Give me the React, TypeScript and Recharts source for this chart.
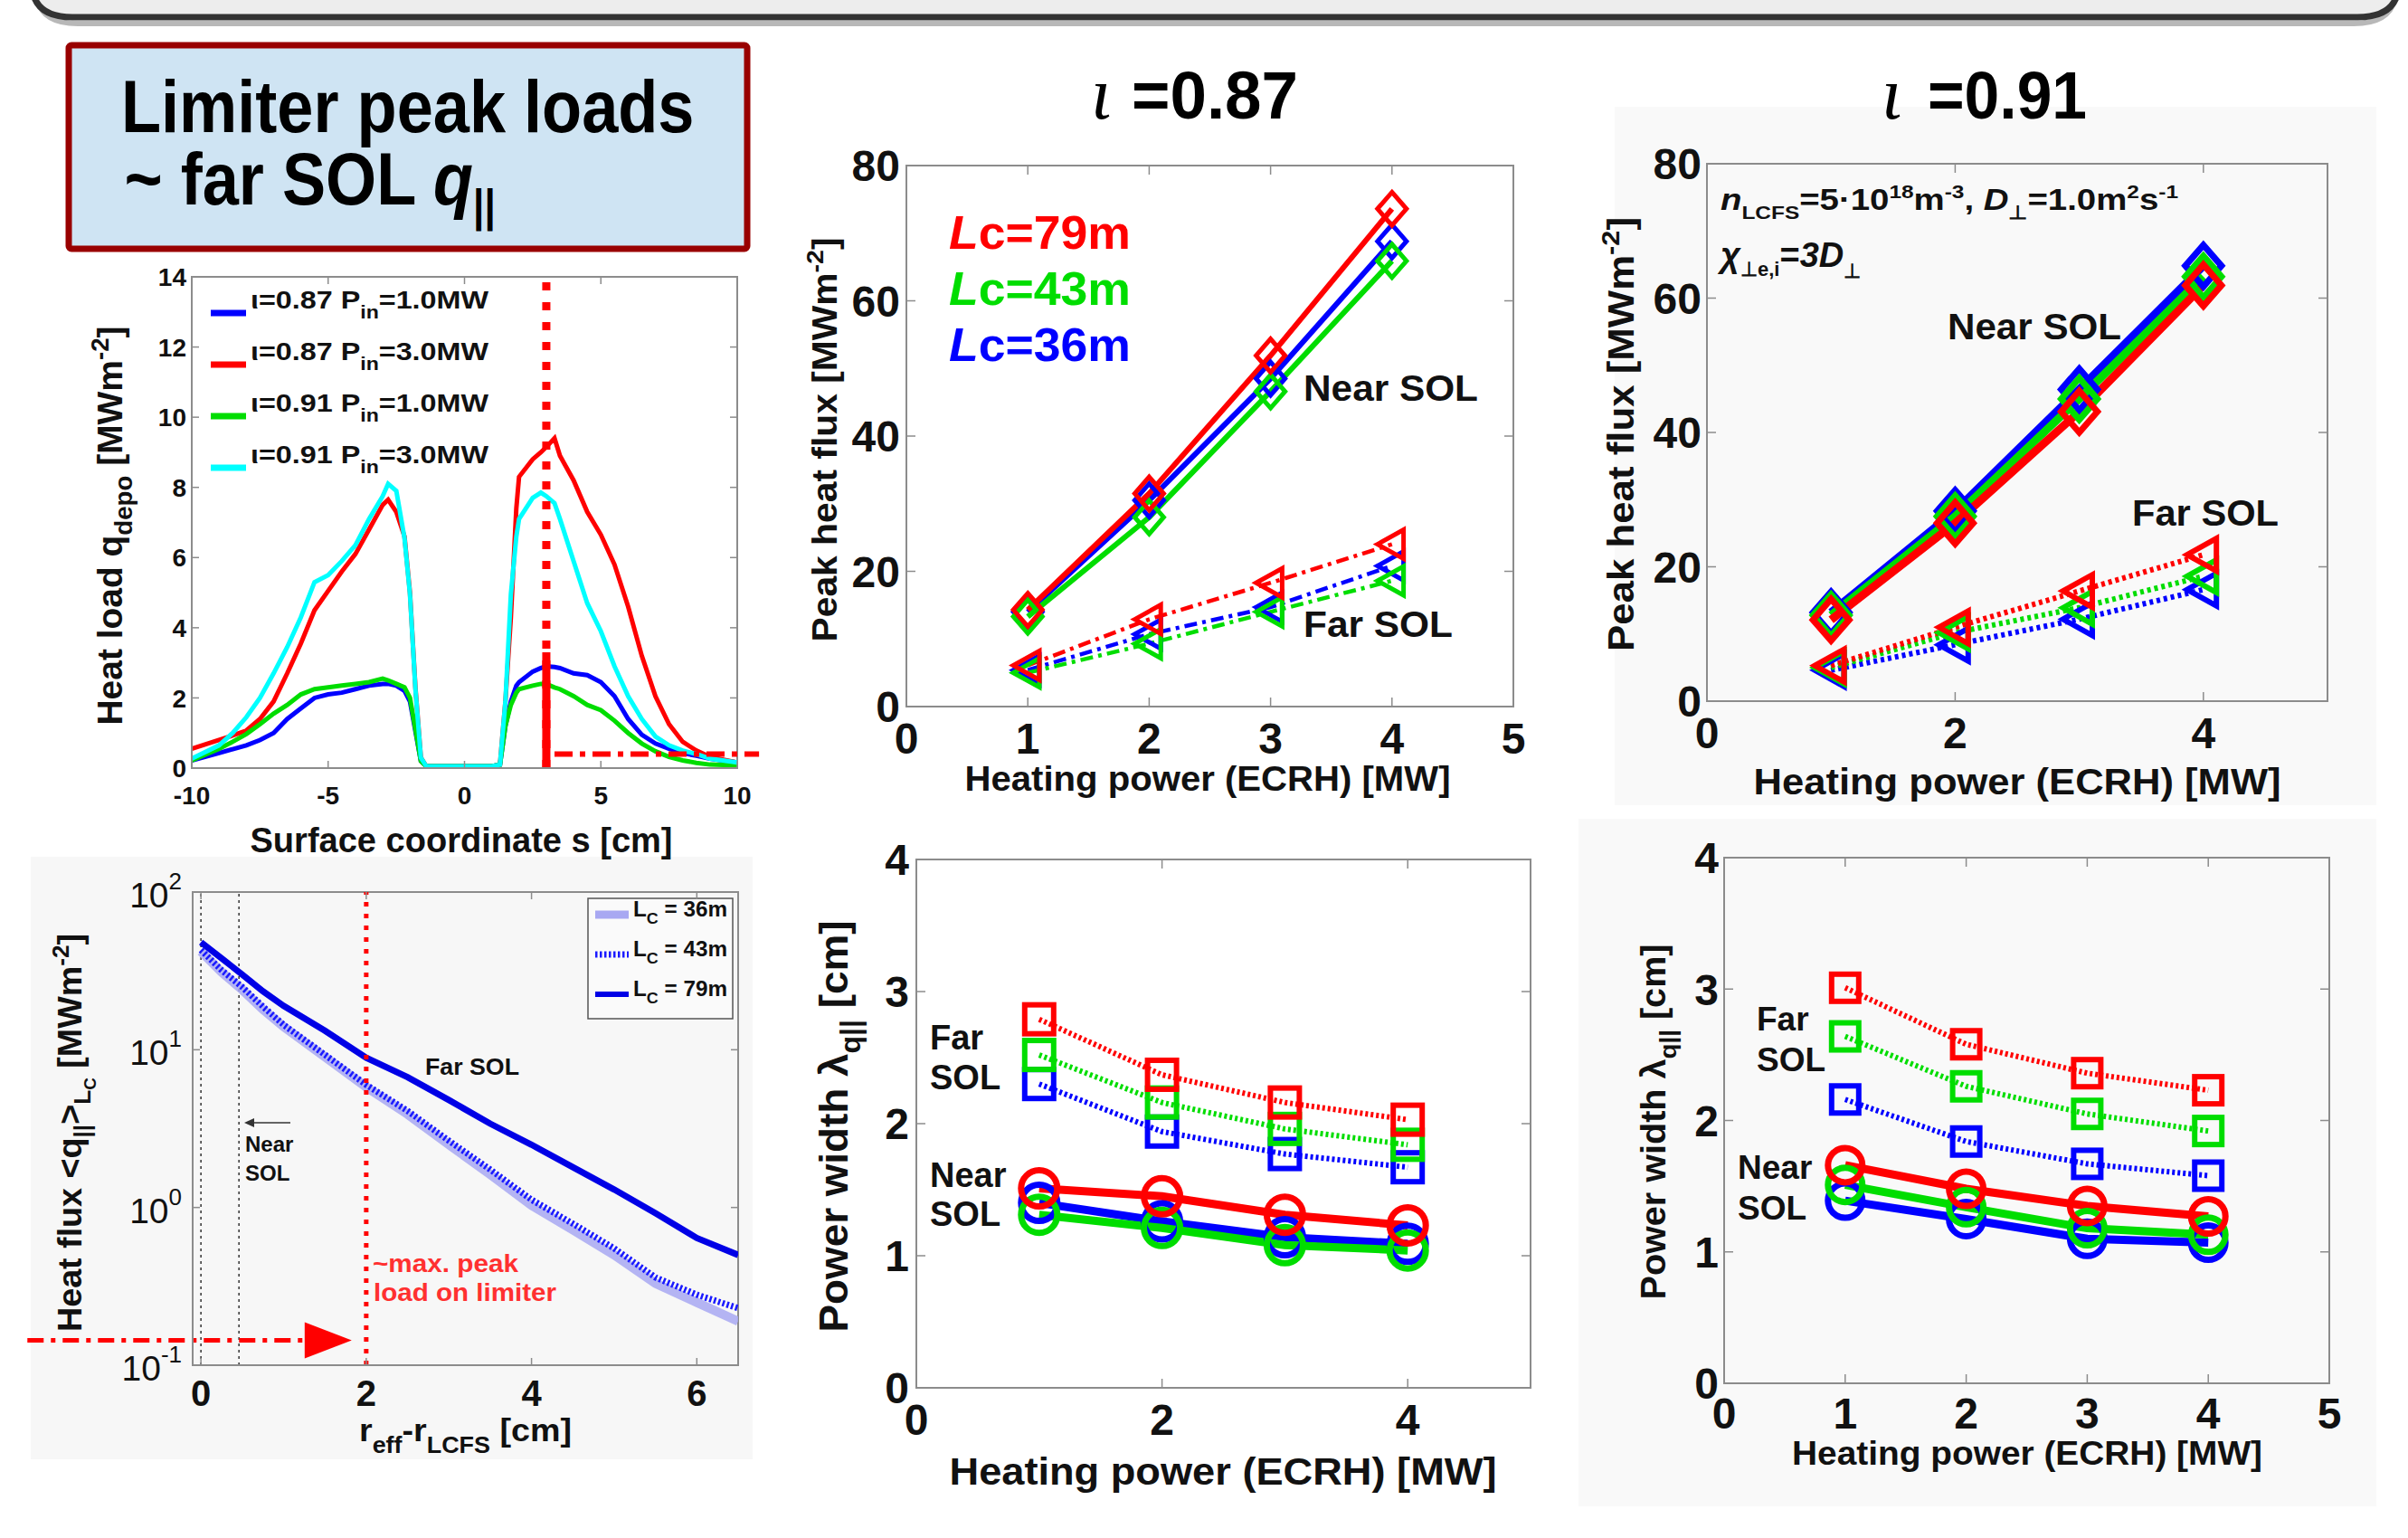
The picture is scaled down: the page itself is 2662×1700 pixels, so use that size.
import React from 'react';
import { LineChart, Line, XAxis, YAxis, ReferenceLine, ReferenceArea, ReferenceDot } from 'recharts';

const FONT = '"Liberation Sans", Arial, Helvetica, sans-serif';
const SERIF = '"Liberation Serif", "DejaVu Serif", serif';
const RED = '#ff0000';
const GREEN = '#00dd00';
const BLUE = '#0000ff';
const CYAN = '#00ffff';
const LAVENDER = '#a8a8f2';
const AXIS = '#8c8c8c';
const INK = '#111111';
const NOTE_RED = '#ff3030';

// ---------- Panel A: heat load q_depo vs surface coordinate s ----------
const sCoord = [-10, -9, -8.5, -8, -7.5, -7, -6.5, -6, -5.5, -5, -4.5, -4, -3.5, -3, -2.8, -2.5, -2.2, -2, -1.8, -1.6, -1.4, -1, 0, 1, 1.3, 1.5, 1.7, 1.9, 2, 2.5, 2.8, 3, 3.3, 3.5, 4, 4.5, 5, 5.5, 6, 6.5, 7, 7.5, 8, 8.5, 9, 10];
const qIota087P1 = [0.22, 0.43, 0.54, 0.65, 0.8, 1.0, 1.4, 1.7, 2.0, 2.1, 2.15, 2.25, 2.35, 2.4, 2.4, 2.35, 2.2, 1.9, 1.05, 0.2, 0.05, 0.05, 0.05, 0.05, 0.1, 1.2, 1.9, 2.35, 2.45, 2.75, 2.85, 2.9, 2.88, 2.85, 2.7, 2.65, 2.45, 2.05, 1.4, 0.95, 0.7, 0.55, 0.43, 0.35, 0.27, 0.16];
const qIota087P3 = [0.55, 0.8, 0.93, 1.07, 1.4, 1.9, 2.7, 3.55, 4.5, 5.05, 5.6, 6.1, 6.8, 7.5, 7.65, 7.3, 6.6, 5.0, 2.3, 0.3, 0.05, 0.05, 0.05, 0.05, 0.1, 1.9, 4.3, 7.4, 8.3, 8.8, 9.0, 9.15, 9.4, 8.9, 8.2, 7.3, 6.65, 5.8, 4.6, 3.2, 2.05, 1.25, 0.75, 0.5, 0.32, 0.16];
const qIota091P1 = [0.22, 0.55, 0.75, 0.97, 1.25, 1.55, 1.8, 2.1, 2.25, 2.3, 2.35, 2.4, 2.45, 2.55, 2.5, 2.4, 2.3, 2.0, 1.1, 0.2, 0.05, 0.05, 0.05, 0.05, 0.1, 1.2, 1.8, 2.15, 2.25, 2.35, 2.4, 2.4, 2.3, 2.25, 2.05, 1.8, 1.65, 1.35, 1.0, 0.7, 0.48, 0.32, 0.22, 0.15, 0.1, 0.08];
const qIota091P3 = [0.27, 0.65, 1.0, 1.45, 2.0, 2.7, 3.45, 4.3, 5.3, 5.5, 5.9, 6.35, 7.1, 7.75, 8.1, 7.9, 6.55, 4.95, 2.25, 0.3, 0.05, 0.05, 0.05, 0.05, 0.1, 1.9, 4.95, 6.6, 7.1, 7.7, 7.85, 7.75, 7.55, 7.1, 5.9, 4.7, 3.9, 2.9, 2.05, 1.4, 0.9, 0.65, 0.5, 0.4, 0.27, 0.16];
const sTicks = [-10, -5, 0, 5, 10];
const qTicks = [0, 2, 4, 6, 8, 10, 12, 14];
const legendIota = ['0.87', '0.87', '0.91', '0.91'];
const legendPin = ['1.0', '3.0', '1.0', '3.0'];
const legendColorsA = [BLUE, RED, GREEN, CYAN];

// ---------- Panel B: heat flux vs r_eff - r_LCFS (log) ----------
const rEff = [0, 0.25, 0.5, 0.75, 1, 1.5, 2, 2.5, 3, 3.5, 4, 4.5, 5, 5.5, 6, 6.5];
const qLc36 = [42, 31, 24, 18, 14, 9.0, 5.8, 3.9, 2.5, 1.62, 1.03, 0.72, 0.5, 0.33, 0.25, 0.19];
const qLc43 = [43, 32, 25, 18.8, 14.4, 9.3, 6.0, 4.1, 2.65, 1.74, 1.12, 0.79, 0.55, 0.36, 0.28, 0.23];
const qLc79 = [48, 38, 30, 23.5, 19.0, 13.2, 8.9, 6.7, 4.8, 3.4, 2.5, 1.8, 1.3, 0.92, 0.64, 0.5];
const rTicks = [0, 2, 4, 6];
const logTicks = [0.1, 1, 10, 100];
const legendLcB = ['36', '43', '79'];

// ---------- Power scans ----------
const powerMW = [1, 2, 3, 4];
const lcLabels = ['79', '43', '36'];
const lcColors = [RED, GREEN, BLUE];
// iota = 0.87 peak heat flux [MW m^-2]
const peak087NearLc36 = [14.0, 30.5, 48.5, 68.8];
const peak087NearLc43 = [13.3, 28.0, 46.6, 65.9];
const peak087NearLc79 = [14.3, 31.5, 51.9, 73.6];
const peak087FarLc36 = [5.4, 10.7, 14.7, 20.8];
const peak087FarLc43 = [5.0, 9.3, 14.0, 18.6];
const peak087FarLc79 = [6.1, 12.9, 18.3, 24.0];
// iota = 0.91 peak heat flux
const peak091NearLc36 = [13.2, 28.3, 46.4, 64.8];
const peak091NearLc43 = [12.8, 27.5, 45.0, 63.2];
const peak091NearLc79 = [12.1, 26.5, 43.1, 61.9];
const peak091FarLc36 = [4.6, 8.4, 12.2, 16.6];
const peak091FarLc43 = [5.0, 10.2, 13.9, 18.6];
const peak091FarLc79 = [5.3, 11.0, 16.4, 21.8];
// iota = 0.87 power width [cm]
const width087NearLc36 = [1.40, 1.26, 1.14, 1.09];
const width087NearLc43 = [1.31, 1.21, 1.08, 1.04];
const width087NearLc79 = [1.51, 1.45, 1.31, 1.23];
const width087FarLc36 = [2.30, 1.94, 1.77, 1.67];
const width087FarLc43 = [2.52, 2.16, 1.96, 1.84];
const width087FarLc79 = [2.79, 2.37, 2.16, 2.03];
// iota = 0.91 power width [cm]
const width091NearLc36 = [1.39, 1.25, 1.10, 1.07];
const width091NearLc43 = [1.51, 1.34, 1.18, 1.13];
const width091NearLc79 = [1.66, 1.48, 1.35, 1.27];
const width091FarLc36 = [2.16, 1.84, 1.67, 1.58];
const width091FarLc43 = [2.64, 2.26, 2.05, 1.92];
const width091FarLc79 = [3.01, 2.58, 2.36, 2.23];

const peakTicks = [0, 20, 40, 60, 80];
const widthTicks = [0, 1, 2, 3, 4];
const pTicksAll = [0, 1, 2, 3, 4, 5];
const pTicksEven = [0, 2, 4];

// ---------- helpers ----------
type Geo = { L: number; T: number; W: number; H: number; YW: number; MT: number; XH: number; MR: number };
type Frame = { ox: number; oy: number; width: number; height: number; left: number; top: number; right: number; bottom: number };

function frame(g: Geo): Frame {
  return {
    ox: g.L - g.YW,
    oy: g.T - g.MT,
    width: g.YW + g.W + g.MR,
    height: g.MT + g.H + g.XH,
    left: g.YW,
    top: g.MT,
    right: g.YW + g.W,
    bottom: g.MT + g.H,
  };
}

function xTick(f: Frame, fs: number, dy: number, len: number) {
  return (props: any) => {
    const { x, payload, index } = props;
    return (
      <g key={`xt-${index}`}>
        <line x1={x} x2={x} y1={f.bottom} y2={f.bottom - len} stroke={AXIS} strokeWidth={1.5} />
        <line x1={x} x2={x} y1={f.top} y2={f.top + len} stroke={AXIS} strokeWidth={1.5} />
        <text x={x} y={f.bottom + dy} textAnchor="middle" fontSize={fs} fontWeight="bold" fontFamily={FONT} fill={INK}>
          {String(payload.value)}
        </text>
      </g>
    );
  };
}

function yTick(f: Frame, fs: number, gap: number, len: number) {
  return (props: any) => {
    const { y, payload, index } = props;
    return (
      <g key={`yt-${index}`}>
        <line x1={f.left} x2={f.left + len} y1={y} y2={y} stroke={AXIS} strokeWidth={1.5} />
        <line x1={f.right} x2={f.right - len} y1={y} y2={y} stroke={AXIS} strokeWidth={1.5} />
        <text x={f.left - gap} y={y + fs * 0.36} textAnchor="end" fontSize={fs} fontWeight="bold" fontFamily={FONT} fill={INK}>
          {String(payload.value)}
        </text>
      </g>
    );
  };
}

function logYTick(f: Frame, len: number) {
  return (props: any) => {
    const { y, payload, index } = props;
    const e = Math.round(Math.log10(payload.value));
    return (
      <g key={`lyt-${index}`}>
        <line x1={f.left} x2={f.left + len} y1={y} y2={y} stroke={AXIS} strokeWidth={1.5} />
        <line x1={f.right} x2={f.right - len} y1={y} y2={y} stroke={AXIS} strokeWidth={1.5} />
        <text x={f.left - 12} y={y + 17} textAnchor="end" fontSize={39} fontFamily={FONT} fill={INK}>
          10<tspan dy={-20} fontSize={26}>{String(e)}</tspan>
        </text>
      </g>
    );
  };
}

type Shape = 'diamond' | 'triLeft' | 'square' | 'circle';
function marker(shape: Shape, color: string, r: number, sw: number) {
  return (props: any) => {
    const { cx, cy, index } = props;
    const k = `m-${shape}-${color}-${index}`;
    if (cx == null || cy == null) return <g key={k} />;
    const common = { fill: 'none', stroke: color, strokeWidth: sw, strokeDasharray: 'none' };
    if (shape === 'diamond') return <path key={k} d={`M${cx} ${cy - r * 1.15}L${cx + r} ${cy}L${cx} ${cy + r * 1.15}L${cx - r} ${cy}Z`} {...common} />;
    if (shape === 'triLeft') return <path key={k} d={`M${cx - r} ${cy}L${cx + r * 0.8} ${cy - r}L${cx + r * 0.8} ${cy + r}Z`} {...common} />;
    if (shape === 'square') return <rect key={k} x={cx - r} y={cy - r} width={2 * r} height={2 * r} {...common} />;
    return <circle key={k} cx={cx} cy={cy} r={r} {...common} />;
  };
}

const txt = (fs: number, color: string = INK) => ({ fontSize: fs, fontFamily: FONT, fontWeight: 'bold' as const, fill: color });

// ---------- decorations ----------
function Decor() {
  return (
    <svg width={2662} height={1700} style={{ position: 'absolute', left: 0, top: 0 }}>
      <rect x={34} y={947} width={798} height={666} fill="#f7f7f7" />
      <rect x={1785} y={118} width={842} height={772} fill="#f9f9f9" />
      <rect x={1745} y={905} width={882} height={760} fill="#f9f9f9" />
      <path d="M 41 -40 L 41 -4 Q 45 26 86 26 L 2602 26 Q 2643 26 2648 -4 L 2648 -40" fill="none" stroke="#b8b8b8" strokeWidth={6} />
      <path d="M 36 -40 L 36 -10 Q 41 19 80 19 L 2606 19 Q 2646 19 2651 -10 L 2651 -40" fill="#ededed" stroke="#333333" strokeWidth={7} />
      <rect x={76} y={50} width={750} height={225} rx={3} fill="#cfe4f3" stroke="#990000" strokeWidth={7} />
      <g transform="translate(134,0) scale(0.88,1)">
        <text x={0} y={146} {...txt(82, '#000')}>Limiter peak loads</text>
        <text x={4} y={226} {...txt(82, '#000')}>
          ~ far SOL <tspan fontStyle="italic">q</tspan>
          <tspan dy={18} fontSize={50}>||</tspan>
        </text>
      </g>
      <text x={1206} y={131} fontSize={82} fontStyle="italic" fontFamily={SERIF} fill="#000">ι</text>
      <text x={1251} y={131} {...txt(75, '#000')} textLength={184} lengthAdjust="spacingAndGlyphs">=0.87</text>
      <text x={2080} y={131} fontSize={82} fontStyle="italic" fontFamily={SERIF} fill="#000">ι</text>
      <text x={2131} y={131} {...txt(75, '#000')} textLength={176} lengthAdjust="spacingAndGlyphs">=0.91</text>
    </svg>
  );
}

// ---------- Panel A ----------
function PanelA() {
  const g: Geo = { L: 212, T: 306, W: 603, H: 543, YW: 160, MT: 40, XH: 110, MR: 40 };
  const f = frame(g);
  const X = (v: number) => v - f.ox;
  const Y = (v: number) => v - f.oy;
  const data = sCoord.map((s, i) => ({ s, b: qIota087P1[i], r: qIota087P3[i], g: qIota091P1[i], c: qIota091P3[i] }));
  const fs = 38;
  return (
    <div style={{ position: 'absolute', left: f.ox, top: f.oy }}>
      <LineChart width={f.width} height={f.height} data={data} margin={{ top: g.MT, right: g.MR, bottom: 0, left: 0 }}>
        <XAxis type="number" dataKey="s" domain={[-10, 10]} ticks={sTicks} interval={0} allowDataOverflow height={g.XH}
          tickLine={false} tickSize={0} tickMargin={0} axisLine={{ stroke: AXIS, strokeWidth: 2 }} tick={xTick(f, 28, 40, 8)} />
        <YAxis type="number" domain={[0, 14]} ticks={qTicks} interval={0} allowDataOverflow width={g.YW}
          tickLine={false} tickSize={0} tickMargin={0} axisLine={{ stroke: AXIS, strokeWidth: 2 }} tick={yTick(f, 28, 6, 8)} />
        <ReferenceArea x1={-10} x2={10} y1={0} y2={14} fill="none" stroke={AXIS} strokeWidth={2} />
        <Line type="linear" dataKey="b" stroke={BLUE} strokeWidth={5} dot={false} activeDot={false} isAnimationActive={false} />
        <Line type="linear" dataKey="r" stroke={RED} strokeWidth={5} dot={false} activeDot={false} isAnimationActive={false} />
        <Line type="linear" dataKey="g" stroke={GREEN} strokeWidth={5} dot={false} activeDot={false} isAnimationActive={false} />
        <Line type="linear" dataKey="c" stroke={CYAN} strokeWidth={5} dot={false} activeDot={false} isAnimationActive={false} />
        <ReferenceLine x={3} stroke={RED} strokeWidth={9} strokeDasharray="9 13" />
        <ReferenceLine segment={[{ x: 3, y: 0 }, { x: 3, y: 3.3 }]} stroke={RED} strokeWidth={9} />
        <ReferenceLine segment={[{ x: 3.3, y: 0.4 }, { x: 10.8, y: 0.4 }]} stroke={RED} strokeWidth={6} strokeDasharray="20 8 6 8" ifOverflow="visible" />
        {legendIota.map((io, i) => {
          const by = 341 + 57 * i;
          return (
            <g key={`lgA${i}`}>
              <line x1={X(233)} x2={X(272)} y1={Y(by + 5)} y2={Y(by + 5)} stroke={legendColorsA[i]} strokeWidth={7} />
              <text x={X(277)} y={Y(by)} {...txt(28)} textLength={263} lengthAdjust="spacingAndGlyphs">
                {`ι=${io} P`}
                <tspan dy={11} fontSize={20}>in</tspan>
                <tspan dy={-11}>{`=${legendPin[i]}MW`}</tspan>
              </text>
            </g>
          );
        })}
        <text transform={`translate(${X(122 + fs * 0.35)},${Y(581)}) rotate(-90)`} textAnchor="middle" {...txt(fs)} textLength={441} lengthAdjust="spacingAndGlyphs">
          Heat load q<tspan dy={11} fontSize={27}>depo</tspan>
          <tspan dy={-11}> [MWm</tspan>
          <tspan dy={-15} fontSize={27}>-2</tspan>
          <tspan dy={15}>]</tspan>
        </text>
        <text x={X(510)} y={Y(942)} textAnchor="middle" {...txt(fs)} textLength={467} lengthAdjust="spacingAndGlyphs">Surface coordinate s [cm]</text>
      </LineChart>
    </div>
  );
}

// ---------- Panel B ----------
function PanelB() {
  const g: Geo = { L: 213, T: 986, W: 603, H: 523, YW: 200, MT: 50, XH: 130, MR: 20 };
  const f = frame(g);
  const X = (v: number) => v - f.ox;
  const Y = (v: number) => v - f.oy;
  const data = rEff.map((r, i) => ({ r, a: qLc36[i], b: qLc43[i], c: qLc79[i] }));
  const legendStyles = [
    { stroke: LAVENDER, strokeWidth: 9, dash: undefined as string | undefined },
    { stroke: '#1a1aff', strokeWidth: 7, dash: '2.5 2.5' },
    { stroke: '#0000e6', strokeWidth: 6, dash: undefined as string | undefined },
  ];
  return (
    <div style={{ position: 'absolute', left: f.ox, top: f.oy }}>
      <LineChart width={f.width} height={f.height} data={data} margin={{ top: g.MT, right: g.MR, bottom: 0, left: 0 }}>
        <XAxis type="number" dataKey="r" domain={[-0.1, 6.5]} ticks={rTicks} interval={0} allowDataOverflow height={g.XH}
          tickLine={false} tickSize={0} tickMargin={0} axisLine={{ stroke: AXIS, strokeWidth: 2 }} tick={xTick(f, 40, 45, 8)} />
        <YAxis type="number" scale="log" domain={[0.1, 100]} ticks={logTicks} interval={0} allowDataOverflow width={g.YW}
          tickLine={false} tickSize={0} tickMargin={0} axisLine={{ stroke: AXIS, strokeWidth: 2 }} tick={logYTick(f, 8)} />
        <ReferenceArea x1={-0.1} x2={6.5} y1={0.1} y2={100} fill="none" stroke={AXIS} strokeWidth={2} />
        <ReferenceLine x={0} stroke="#333" strokeWidth={1.5} strokeDasharray="3 4" />
        <ReferenceLine x={0.46} stroke="#333" strokeWidth={1.5} strokeDasharray="3 4" />
        <Line type="linear" dataKey="a" stroke={LAVENDER} strokeOpacity={0.85} strokeWidth={10} dot={false} activeDot={false} isAnimationActive={false} />
        <Line type="linear" dataKey="b" stroke="#1a1aff" strokeWidth={7} strokeDasharray="2.5 2.5" dot={false} activeDot={false} isAnimationActive={false} />
        <Line type="linear" dataKey="c" stroke="#0000e6" strokeWidth={7} dot={false} activeDot={false} isAnimationActive={false} />
        <ReferenceLine x={2} stroke={RED} strokeWidth={5} strokeDasharray="5 8" />
        <ReferenceLine segment={[{ x: -2.1, y: 0.1436 }, { x: 1.26, y: 0.1436 }]} stroke={RED} strokeWidth={5} strokeDasharray="18 8 5 8" ifOverflow="visible" />
        <ReferenceDot x={1.54} y={0.1436} ifOverflow="visible" shape={(p: any) => (
          <path d={`M${p.cx - 26} ${p.cy - 20}L${p.cx + 26} ${p.cy}L${p.cx - 26} ${p.cy + 20}Z`} fill={RED} stroke="none" />
        )} />
        <rect x={X(650)} y={Y(993)} width={160} height={133} fill="#fafafa" stroke="#555" strokeWidth={1.5} />
        {legendLcB.map((lc, i) => {
          const by = 1013 + 44 * i;
          const st = legendStyles[i];
          return (
            <g key={`lgB${i}`}>
              <line x1={X(658)} x2={X(695)} y1={Y(by - 2)} y2={Y(by - 2)} stroke={st.stroke} strokeWidth={st.strokeWidth} strokeDasharray={st.dash} />
              <text x={X(700)} y={Y(by)} {...txt(23)} textLength={104} lengthAdjust="spacingAndGlyphs">
                L<tspan dy={8} fontSize={17}>C</tspan>
                <tspan dy={-8}>{` = ${lc}m`}</tspan>
              </text>
            </g>
          );
        })}
        <text x={X(470)} y={Y(1188)} {...txt(25)} textLength={104} lengthAdjust="spacingAndGlyphs">Far SOL</text>
        <text x={X(271)} y={Y(1273)} {...txt(24)}>Near</text>
        <text x={X(271)} y={Y(1305)} {...txt(24)}>SOL</text>
        <line x1={X(321)} x2={X(276)} y1={Y(1241)} y2={Y(1241)} stroke="#333" strokeWidth={1.5} />
        <path d={`M${X(270)} ${Y(1241)}L${X(281)} ${Y(1236)}L${X(281)} ${Y(1246)}Z`} fill="#333" />
        <text x={X(412)} y={Y(1406)} {...txt(28, NOTE_RED)} textLength={161} lengthAdjust="spacingAndGlyphs">~max. peak</text>
        <text x={X(413)} y={Y(1438)} {...txt(28, NOTE_RED)} textLength={202} lengthAdjust="spacingAndGlyphs">load on limiter</text>
        <text transform={`translate(${X(78 + 12)},${Y(1252)}) rotate(-90)`} textAnchor="middle" {...txt(36)} textLength={440} lengthAdjust="spacingAndGlyphs">
          {'Heat flux <q'}
          <tspan dy={10} fontSize={25}>||</tspan>
          <tspan dy={-10}>{'>'}</tspan>
          <tspan dy={10} fontSize={25}>L</tspan>
          <tspan dy={6} fontSize={18}>C</tspan>
          <tspan dy={-16}> [MWm</tspan>
          <tspan dy={-14} fontSize={25}>-2</tspan>
          <tspan dy={14}>]</tspan>
        </text>
        <text x={X(397)} y={Y(1593)} {...txt(35)} textLength={235} lengthAdjust="spacingAndGlyphs">
          r<tspan dy={13} fontSize={25}>eff</tspan>
          <tspan dy={-13}>-r</tspan>
          <tspan dy={13} fontSize={25}>LCFS</tspan>
          <tspan dy={-13}> [cm]</tspan>
        </text>
      </LineChart>
    </div>
  );
}

// ---------- Power scan panels ----------
type PowerCfg = {
  id: string;
  geo: Geo;
  yMax: number;
  yTicks: number[];
  xTicks: number[];
  near: number[][];
  far: number[][];
  nearShape: Shape;
  farShape: Shape;
  nearR: number;
  farR: number;
  nearMW: number;
  farMW: number;
  nearW: number;
  farW: number;
  farDash: string;
  tickDy: number;
  tickGap: number;
  yLabelKind: 'peak' | 'width';
  yLabel: [number, number, number, number];
  xLabel: [number, number, number, number];
  extras: (X: (v: number) => number, Y: (v: number) => number) => React.ReactNode;
};

function PowerPanel({ cfg }: { cfg: PowerCfg }) {
  const g = cfg.geo;
  const f = frame(g);
  const X = (v: number) => v - f.ox;
  const Y = (v: number) => v - f.oy;
  const data = powerMW.map((p, i) => ({
    p,
    n0: cfg.near[0][i], n1: cfg.near[1][i], n2: cfg.near[2][i],
    f0: cfg.far[0][i], f1: cfg.far[1][i], f2: cfg.far[2][i],
  }));
  const colors = [BLUE, GREEN, RED];
  const [ycx, ycy, yfs, ylen] = cfg.yLabel;
  const [xcx, xby, xfs, xlen] = cfg.xLabel;
  return (
    <div style={{ position: 'absolute', left: f.ox, top: f.oy }}>
      <LineChart width={f.width} height={f.height} data={data} margin={{ top: g.MT, right: g.MR, bottom: 0, left: 0 }}>
        <XAxis type="number" dataKey="p" domain={[0, 5]} ticks={cfg.xTicks} interval={0} allowDataOverflow height={g.XH}
          tickLine={false} tickSize={0} tickMargin={0} axisLine={{ stroke: AXIS, strokeWidth: 2 }} tick={xTick(f, 48, cfg.tickDy, 10)} />
        <YAxis type="number" domain={[0, cfg.yMax]} ticks={cfg.yTicks} interval={0} allowDataOverflow width={g.YW}
          tickLine={false} tickSize={0} tickMargin={0} axisLine={{ stroke: AXIS, strokeWidth: 2 }} tick={yTick(f, 48, cfg.tickGap, 10)} />
        <ReferenceArea x1={0} x2={5} y1={0} y2={cfg.yMax} fill="none" stroke={AXIS} strokeWidth={2} />
        {[0, 1, 2].map((k) => (
          <Line key={`${cfg.id}-far${k}`} type="linear" dataKey={`f${k}`} stroke={colors[k]} strokeWidth={cfg.farW} strokeDasharray={cfg.farDash}
            dot={marker(cfg.farShape, colors[k], cfg.farR, cfg.farMW)} activeDot={false} isAnimationActive={false} />
        ))}
        {[0, 1, 2].map((k) => (
          <Line key={`${cfg.id}-near${k}`} type="linear" dataKey={`n${k}`} stroke={colors[k]} strokeWidth={cfg.nearW}
            dot={marker(cfg.nearShape, colors[k], cfg.nearR, cfg.nearMW)} activeDot={false} isAnimationActive={false} />
        ))}
        {cfg.extras(X, Y)}
        <text transform={`translate(${X(ycx + yfs * 0.35)},${Y(ycy)}) rotate(-90)`} textAnchor="middle" {...txt(yfs)} textLength={ylen} lengthAdjust="spacingAndGlyphs">
          {cfg.yLabelKind === 'peak' ? (
            <>
              Peak heat flux [MWm<tspan dy={-yfs * 0.4} fontSize={yfs * 0.7}>-2</tspan>
              <tspan dy={yfs * 0.4}>]</tspan>
            </>
          ) : (
            <>
              Power width λ<tspan dy={yfs * 0.3} fontSize={yfs * 0.7}>q||</tspan>
              <tspan dy={-yfs * 0.3}> [cm]</tspan>
            </>
          )}
        </text>
        <text x={X(xcx)} y={Y(xby)} textAnchor="middle" {...txt(xfs)} textLength={xlen} lengthAdjust="spacingAndGlyphs">Heating power (ECRH) [MW]</text>
      </LineChart>
    </div>
  );
}

const cfgC: PowerCfg = {
  id: 'C',
  geo: { L: 1002, T: 183, W: 671, H: 598, YW: 160, MT: 50, XH: 120, MR: 30 },
  yMax: 80, yTicks: peakTicks, xTicks: pTicksAll,
  near: [peak087NearLc36, peak087NearLc43, peak087NearLc79],
  far: [peak087FarLc36, peak087FarLc43, peak087FarLc79],
  nearShape: 'diamond', farShape: 'triLeft', nearR: 16, farR: 16, nearMW: 5, farMW: 5,
  nearW: 6, farW: 4.5, farDash: '14 6 4 6',
  tickDy: 52, tickGap: 7,
  yLabelKind: 'peak', yLabel: [912, 486, 38, 447], xLabel: [1335, 874, 38, 537],
  extras: (X, Y) => (
    <g>
      {lcLabels.map((lc, i) => (
        <text key={`lcC${i}`} x={X(1049)} y={Y(275 + 62 * i)} {...txt(52, lcColors[i])} textLength={201} lengthAdjust="spacingAndGlyphs">
          <tspan fontStyle="italic">L</tspan>{`c=${lc}m`}
        </text>
      ))}
      <text x={X(1441)} y={Y(443)} {...txt(40)} textLength={193} lengthAdjust="spacingAndGlyphs">Near SOL</text>
      <text x={X(1441)} y={Y(704)} {...txt(40)} textLength={165} lengthAdjust="spacingAndGlyphs">Far SOL</text>
    </g>
  ),
};

const cfgD: PowerCfg = {
  id: 'D',
  geo: { L: 1887, T: 181, W: 686, H: 594, YW: 160, MT: 50, XH: 120, MR: 40 },
  yMax: 80, yTicks: peakTicks, xTicks: pTicksEven,
  near: [peak091NearLc36, peak091NearLc43, peak091NearLc79],
  far: [peak091FarLc36, peak091FarLc43, peak091FarLc79],
  nearShape: 'diamond', farShape: 'triLeft', nearR: 20, farR: 18, nearMW: 7, farMW: 6,
  nearW: 9, farW: 6, farDash: '4 4',
  tickDy: 52, tickGap: 6,
  yLabelKind: 'peak', yLabel: [1792, 480, 40, 480], xLabel: [2230, 878, 40, 583],
  extras: (X, Y) => (
    <g>
      <text x={X(1902)} y={Y(232)} {...txt(33)} textLength={506} lengthAdjust="spacingAndGlyphs">
        <tspan fontStyle="italic">n</tspan>
        <tspan dy={10} fontSize={21}>LCFS</tspan>
        <tspan dy={-10}>=5·10</tspan>
        <tspan dy={-13} fontSize={21}>18</tspan>
        <tspan dy={13}>m</tspan>
        <tspan dy={-13} fontSize={21}>-3</tspan>
        <tspan dy={13}>, </tspan>
        <tspan fontStyle="italic">D</tspan>
        <tspan dy={10} fontSize={21}>⊥</tspan>
        <tspan dy={-10}>=1.0m</tspan>
        <tspan dy={-13} fontSize={21}>2</tspan>
        <tspan dy={13}>s</tspan>
        <tspan dy={-13} fontSize={21}>-1</tspan>
      </text>
      <text x={X(1902)} y={Y(295)} {...txt(38)}>
        <tspan fontStyle="italic">χ</tspan>
        <tspan dy={10} fontSize={22}>⊥e,i</tspan>
        <tspan dy={-10}>=</tspan>
        <tspan fontStyle="italic">3D</tspan>
        <tspan dy={12} fontSize={22}>⊥</tspan>
      </text>
      <text x={X(2153)} y={Y(375)} {...txt(40)} textLength={192} lengthAdjust="spacingAndGlyphs">Near SOL</text>
      <text x={X(2357)} y={Y(581)} {...txt(40)} textLength={162} lengthAdjust="spacingAndGlyphs">Far SOL</text>
    </g>
  ),
};

const cfgE: PowerCfg = {
  id: 'E',
  geo: { L: 1013, T: 950, W: 679, H: 584, YW: 160, MT: 50, XH: 130, MR: 30 },
  yMax: 4, yTicks: widthTicks, xTicks: pTicksEven,
  near: [width087NearLc36, width087NearLc43, width087NearLc79],
  far: [width087FarLc36, width087FarLc43, width087FarLc79],
  nearShape: 'circle', farShape: 'square', nearR: 20, farR: 16, nearMW: 7, farMW: 6,
  nearW: 9, farW: 6, farDash: '3 3',
  tickDy: 52, tickGap: 8,
  yLabelKind: 'width', yLabel: [922, 1245, 44, 455], xLabel: [1352, 1641, 42, 605],
  extras: (X, Y) => (
    <g>
      <text x={X(1028)} y={Y(1160)} {...txt(38)}>Far</text>
      <text x={X(1028)} y={Y(1204)} {...txt(38)}>SOL</text>
      <text x={X(1028)} y={Y(1312)} {...txt(38)}>Near</text>
      <text x={X(1028)} y={Y(1355)} {...txt(38)}>SOL</text>
    </g>
  ),
};

const cfgF: PowerCfg = {
  id: 'F',
  geo: { L: 1906, T: 948, W: 669, H: 581, YW: 160, MT: 50, XH: 120, MR: 40 },
  yMax: 4, yTicks: widthTicks, xTicks: pTicksAll,
  near: [width091NearLc36, width091NearLc43, width091NearLc79],
  far: [width091FarLc36, width091FarLc43, width091FarLc79],
  nearShape: 'circle', farShape: 'square', nearR: 19, farR: 15, nearMW: 7, farMW: 6,
  nearW: 9, farW: 6, farDash: '3 3',
  tickDy: 50, tickGap: 6,
  yLabelKind: 'width', yLabel: [1828, 1240, 38, 393], xLabel: [2241, 1619, 37, 520],
  extras: (X, Y) => (
    <g>
      <text x={X(1942)} y={Y(1139)} {...txt(37)}>Far</text>
      <text x={X(1942)} y={Y(1184)} {...txt(37)}>SOL</text>
      <text x={X(1921)} y={Y(1303)} {...txt(37)}>Near</text>
      <text x={X(1921)} y={Y(1348)} {...txt(37)}>SOL</text>
    </g>
  ),
};

export default function App() {
  return (
    <div style={{ position: 'absolute', left: 0, top: 0, width: 2662, height: 1700, background: '#ffffff', overflow: 'hidden', fontFamily: FONT }}>
      <Decor />
      <PanelA />
      <PanelB />
      <PowerPanel cfg={cfgC} />
      <PowerPanel cfg={cfgD} />
      <PowerPanel cfg={cfgE} />
      <PowerPanel cfg={cfgF} />
    </div>
  );
}
